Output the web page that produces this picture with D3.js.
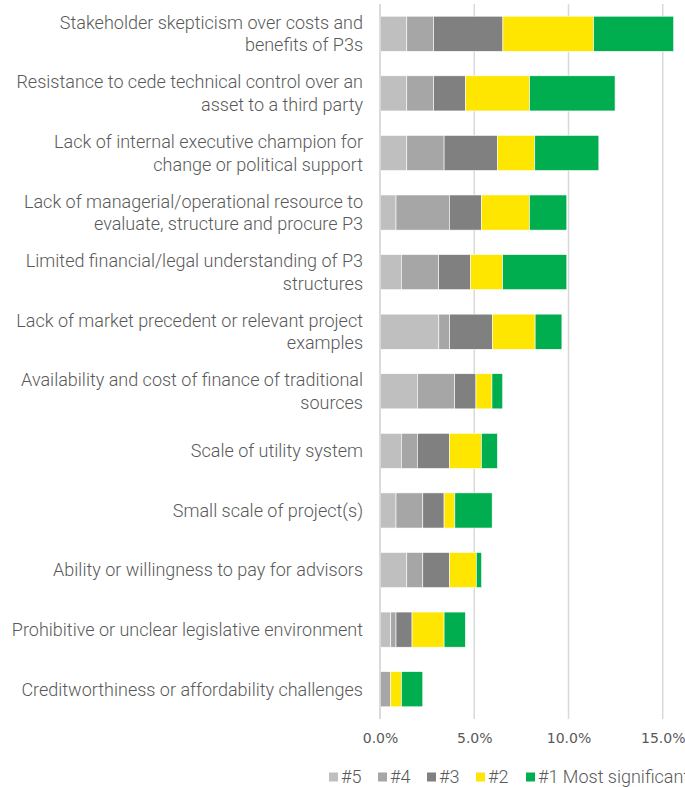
<!DOCTYPE html>
<html>
<head>
<meta charset="utf-8">
<script src="https://cdn.jsdelivr.net/npm/d3@7"></script>
<style>
  html, body { margin: 0; padding: 0; background: #fff; }
  svg { display: block; }
</style>
</head>
<body>
<svg id="chart" width="685" height="787"></svg>
<script>
// Barrier categories (line breaks marked with \n)
const categories = [
  "Stakeholder skepticism over costs and\nbenefits of P3s",
  "Resistance to cede technical control over an\nasset to a third party",
  "Lack of internal executive champion for\nchange or political support",
  "Lack of managerial/operational resource to\nevaluate, structure and procure P3",
  "Limited financial/legal understanding of P3\nstructures",
  "Lack of market precedent or relevant project\nexamples",
  "Availability and cost of finance of traditional\nsources",
  "Scale of utility system",
  "Small scale of project(s)",
  "Ability or willingness to pay for advisors",
  "Prohibitive or unclear legislative environment",
  "Creditworthiness or affordability challenges"
];

// Share of respondents (%) ranking each barrier at each level
const rank5 = [1.42, 1.42, 1.42, 0.85, 1.13, 3.12, 1.98, 1.13, 0.85, 1.42, 0.57, 0.00];
const rank4 = [1.42, 1.42, 1.98, 2.83, 1.98, 0.57, 1.98, 0.85, 1.42, 0.85, 0.28, 0.57];
const rank3 = [3.68, 1.70, 2.83, 1.70, 1.70, 2.27, 1.13, 1.70, 1.13, 1.42, 0.85, 0.00];
const rank2 = [4.81, 3.40, 1.98, 2.55, 1.70, 2.27, 0.85, 1.70, 0.57, 1.42, 1.70, 0.57];
const rank1 = [4.25, 4.53, 3.40, 1.98, 3.40, 1.42, 0.57, 0.85, 1.98, 0.28, 1.13, 1.13];

const seriesNames = ["#5", "#4", "#3", "#2", "#1 Most significant barrier"];
const seriesColors = ["#BFBFBF", "#A6A6A6", "#808080", "#FFE600", "#00AE4F"];
const tickValues = [0, 5, 10, 15];

const rows = categories.map((c, i) => ({
  category: c,
  "#5": rank5[i], "#4": rank4[i], "#3": rank3[i], "#2": rank2[i],
  "#1 Most significant barrier": rank1[i]
}));

const svg = d3.select("#chart");
const plot = { left: 380, right: 757, top: 4, bottom: 719 };

const x = d3.scaleLinear().domain([0, 20]).range([plot.left, plot.right]);
const y = d3.scaleBand().domain(categories)
  .range([plot.top, plot.bottom]).paddingInner(0.41).paddingOuter(0.205);
const color = d3.scaleOrdinal().domain(seriesNames).range(seriesColors);

// Vertical gridlines
svg.append("g").selectAll("line").data(tickValues).join("line")
  .attr("x1", d => x(d)).attr("x2", d => x(d))
  .attr("y1", plot.top).attr("y2", plot.bottom)
  .attr("stroke", "#D9D9D9").attr("stroke-width", 1.5);

// Stacked bars
const stacked = d3.stack().keys(seriesNames)(rows);
svg.append("g").selectAll("g").data(stacked).join("g")
  .attr("fill", d => color(d.key))
  .selectAll("rect").data(d => d).join("rect")
  .attr("x", d => x(d[0]))
  .attr("width", d => Math.max(0, x(d[1]) - x(d[0])))
  .attr("y", d => y(d.data.category))
  .attr("height", y.bandwidth())
  .attr("stroke", "#fff").attr("stroke-width", 0.6);

// X axis labels
const xAxis = d3.axisBottom(x).tickValues(tickValues)
  .tickFormat(d => d3.format(".1f")(d) + "%").tickSize(0).tickPadding(14);
const gx = svg.append("g").attr("transform", `translate(0,${plot.bottom})`).call(xAxis);
gx.select(".domain").remove();
gx.selectAll("text")
  .attr("font-family", "'DejaVu Sans', Verdana, sans-serif")
  .attr("font-size", 14).attr("fill", "#595959");

// Category labels
const labelFont = "Roboto, 'Open Sans', sans-serif";
const lab = svg.append("g").selectAll("text").data(categories).join("text")
  .attr("x", 363)
  .attr("text-anchor", "end")
  .attr("font-family", labelFont)
  .attr("font-weight", 300)
  .attr("font-size", 18)
  .attr("fill", "#595959");
lab.each(function(d) {
  const lines = d.split("\n");
  const cy = y(d) + y.bandwidth() / 2;
  const lh = 22.5;
  const t = d3.select(this);
  lines.forEach((ln, k) => {
    t.append("tspan")
      .attr("x", 363)
      .attr("y", cy + (k - (lines.length - 1) / 2) * lh)
      .attr("dy", "0.35em")
      .text(ln);
  });
});

// Y axis line
svg.append("line")
  .attr("x1", plot.left).attr("x2", plot.left)
  .attr("y1", plot.top).attr("y2", plot.bottom)
  .attr("stroke", "#D9D9D9").attr("stroke-width", 1.5);

// Legend
const legend = svg.append("g").attr("transform", "translate(329,777)");
const legendX = [0, 49, 98, 147, 197];
seriesNames.forEach((name, i) => {
  const g = legend.append("g").attr("transform", `translate(${legendX[i]},0)`);
  g.append("rect").attr("x", 0).attr("y", -4.5).attr("width", 9).attr("height", 9)
    .attr("fill", seriesColors[i]);
  g.append("text").attr("x", 12).attr("y", 0).attr("dy", "0.35em")
    .attr("font-family", labelFont).attr("font-weight", 300)
    .attr("font-size", 18).attr("fill", "#595959")
    .text(name);
});
</script>
</body>
</html>
